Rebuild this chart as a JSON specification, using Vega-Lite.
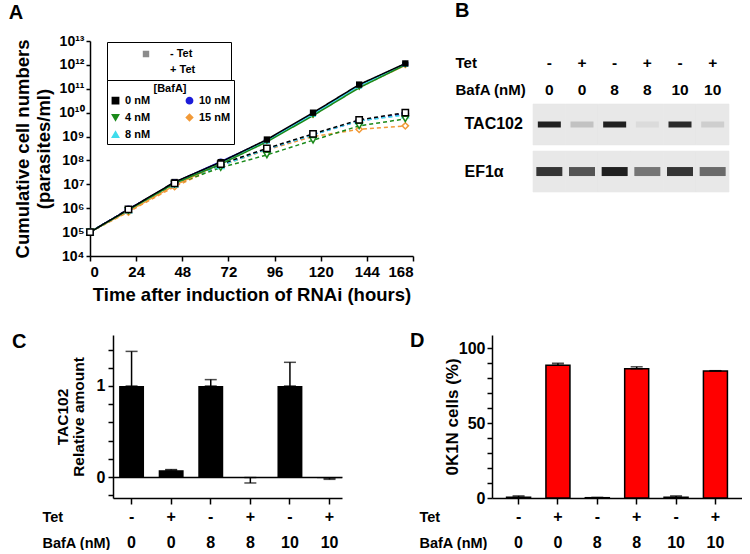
{
  "$schema": "https://vega.github.io/schema/vega-lite/v6.json",
  "padding": {"left": 8, "top": 1, "right": 0, "bottom": 0},
  "background": "white",
  "datasets": {
    "growth": [
      {"t":0,"b":"15 nM","tet":"+ Tet","n":1e5},{"t":20,"b":"15 nM","tet":"+ Tet","n":7e5},{"t":44,"b":"15 nM","tet":"+ Tet","n":8e6},{"t":68,"b":"15 nM","tet":"+ Tet","n":6e7},{"t":92,"b":"15 nM","tet":"+ Tet","n":2.8e8},{"t":116,"b":"15 nM","tet":"+ Tet","n":1e9},{"t":140,"b":"15 nM","tet":"+ Tet","n":2e9},{"t":164,"b":"15 nM","tet":"+ Tet","n":2.8e9},
      {"t":0,"b":"10 nM","tet":"+ Tet","n":1e5},{"t":20,"b":"10 nM","tet":"+ Tet","n":9e5},{"t":44,"b":"10 nM","tet":"+ Tet","n":1.1e7},{"t":68,"b":"10 nM","tet":"+ Tet","n":6.5e7},{"t":92,"b":"10 nM","tet":"+ Tet","n":3e8},{"t":116,"b":"10 nM","tet":"+ Tet","n":1.2e9},{"t":140,"b":"10 nM","tet":"+ Tet","n":4.5e9},{"t":164,"b":"10 nM","tet":"+ Tet","n":9e9},
      {"t":0,"b":"8 nM","tet":"+ Tet","n":1e5},{"t":20,"b":"8 nM","tet":"+ Tet","n":8.5e5},{"t":44,"b":"8 nM","tet":"+ Tet","n":1e7},{"t":68,"b":"8 nM","tet":"+ Tet","n":6e7},{"t":92,"b":"8 nM","tet":"+ Tet","n":3e8},{"t":116,"b":"8 nM","tet":"+ Tet","n":1.2e9},{"t":140,"b":"8 nM","tet":"+ Tet","n":4.5e9},{"t":164,"b":"8 nM","tet":"+ Tet","n":8e9},
      {"t":0,"b":"4 nM","tet":"+ Tet","n":1e5},{"t":20,"b":"4 nM","tet":"+ Tet","n":8e5},{"t":44,"b":"4 nM","tet":"+ Tet","n":1e7},{"t":68,"b":"4 nM","tet":"+ Tet","n":5e7},{"t":92,"b":"4 nM","tet":"+ Tet","n":1.7e8},{"t":116,"b":"4 nM","tet":"+ Tet","n":7e8},{"t":140,"b":"4 nM","tet":"+ Tet","n":2.8e9},{"t":164,"b":"4 nM","tet":"+ Tet","n":5.5e9},
      {"t":0,"b":"0 nM","tet":"+ Tet","n":1e5},{"t":20,"b":"0 nM","tet":"+ Tet","n":9e5},{"t":44,"b":"0 nM","tet":"+ Tet","n":1.1e7},{"t":68,"b":"0 nM","tet":"+ Tet","n":7e7},{"t":92,"b":"0 nM","tet":"+ Tet","n":3.2e8},{"t":116,"b":"0 nM","tet":"+ Tet","n":1.3e9},{"t":140,"b":"0 nM","tet":"+ Tet","n":5e9},{"t":164,"b":"0 nM","tet":"+ Tet","n":1e10},
      {"t":0,"b":"15 nM","tet":"- Tet","n":1e5},{"t":20,"b":"15 nM","tet":"- Tet","n":7.5e5},{"t":44,"b":"15 nM","tet":"- Tet","n":9e6},{"t":68,"b":"15 nM","tet":"- Tet","n":7.5e7},{"t":92,"b":"15 nM","tet":"- Tet","n":6.5e8},{"t":116,"b":"15 nM","tet":"- Tet","n":8e9},{"t":140,"b":"15 nM","tet":"- Tet","n":1.2e11},{"t":164,"b":"15 nM","tet":"- Tet","n":9.5e11},
      {"t":0,"b":"10 nM","tet":"- Tet","n":1e5},{"t":20,"b":"10 nM","tet":"- Tet","n":9e5},{"t":44,"b":"10 nM","tet":"- Tet","n":1.2e7},{"t":68,"b":"10 nM","tet":"- Tet","n":9e7},{"t":92,"b":"10 nM","tet":"- Tet","n":7e8},{"t":116,"b":"10 nM","tet":"- Tet","n":9e9},{"t":140,"b":"10 nM","tet":"- Tet","n":1.4e11},{"t":164,"b":"10 nM","tet":"- Tet","n":1.1e12},
      {"t":0,"b":"8 nM","tet":"- Tet","n":1e5},{"t":20,"b":"8 nM","tet":"- Tet","n":8.5e5},{"t":44,"b":"8 nM","tet":"- Tet","n":1.1e7},{"t":68,"b":"8 nM","tet":"- Tet","n":8e7},{"t":92,"b":"8 nM","tet":"- Tet","n":6.5e8},{"t":116,"b":"8 nM","tet":"- Tet","n":8.5e9},{"t":140,"b":"8 nM","tet":"- Tet","n":1.3e11},{"t":164,"b":"8 nM","tet":"- Tet","n":1.05e12},
      {"t":0,"b":"4 nM","tet":"- Tet","n":1e5},{"t":20,"b":"4 nM","tet":"- Tet","n":8.5e5},{"t":44,"b":"4 nM","tet":"- Tet","n":1.1e7},{"t":68,"b":"4 nM","tet":"- Tet","n":7e7},{"t":92,"b":"4 nM","tet":"- Tet","n":6e8},{"t":116,"b":"4 nM","tet":"- Tet","n":7.5e9},{"t":140,"b":"4 nM","tet":"- Tet","n":1.1e11},{"t":164,"b":"4 nM","tet":"- Tet","n":1.0e12},
      {"t":0,"b":"0 nM","tet":"- Tet","n":1e5},{"t":20,"b":"0 nM","tet":"- Tet","n":9e5},{"t":44,"b":"0 nM","tet":"- Tet","n":1.25e7},{"t":68,"b":"0 nM","tet":"- Tet","n":8.5e7},{"t":92,"b":"0 nM","tet":"- Tet","n":7.5e8},{"t":116,"b":"0 nM","tet":"- Tet","n":1.0e10},{"t":140,"b":"0 nM","tet":"- Tet","n":1.5e11},{"t":164,"b":"0 nM","tet":"- Tet","n":1.15e12}
    ],
    "blot": [
      {"lane":"-|0","blot":"TAC102","v":0.95},{"lane":"+|0","blot":"TAC102","v":0.18},{"lane":"-|8","blot":"TAC102","v":0.95},{"lane":"+|8","blot":"TAC102","v":0.06},{"lane":"-|10","blot":"TAC102","v":0.9},{"lane":"+|10","blot":"TAC102","v":0.12},
      {"lane":"-|0","blot":"EF1α","v":0.85},{"lane":"+|0","blot":"EF1α","v":0.7},{"lane":"-|8","blot":"EF1α","v":0.95},{"lane":"+|8","blot":"EF1α","v":0.55},{"lane":"-|10","blot":"EF1α","v":0.85},{"lane":"+|10","blot":"EF1α","v":0.6}
    ],
    "tac": [
      {"cond":"-|0","value":1,"err":1.38},{"cond":"+|0","value":0.075,"err":0.082},{"cond":"-|8","value":1,"err":1.07},{"cond":"+|8","value":-0.005,"err":-0.065},{"cond":"-|10","value":1,"err":1.26},{"cond":"+|10","value":-0.012,"err":-0.025}
    ],
    "kn": [
      {"cond":"-|0","value":0.5,"err":1.4},{"cond":"+|0","value":88.5,"err":89.8},{"cond":"-|8","value":0.2,"err":0.4},{"cond":"+|8","value":86.2,"err":87.5},{"cond":"-|10","value":0.5,"err":1.4},{"cond":"+|10","value":84.7,"err":84.9}
    ],
    "none": []
  },
  "concat": [
    {
      "hconcat": [
        {
          "width": 323, "height": 215,
          "title": {"text": "A", "dx": -5, "offset": 11},
          "data": {"name": "growth"},
          "encoding": {
            "x": {"field": "t", "type": "quantitative", "scale": {"domain": [0, 168], "nice": false},
                  "axis": {"values": [0,24,48,72,96,120,144,168], "title": "Time after induction of RNAi (hours)", "titleFontSize": 18.5, "labelFontSize": 15, "tickSize": 5, "titlePadding": 6, "labelPadding": 3}},
            "y": {"field": "n", "type": "quantitative", "scale": {"type": "log", "domain": [1e4, 1e13], "nice": false},
                  "axis": {"values": [1e4,1e5,1e6,1e7,1e8,1e9,1e10,1e11,1e12,1e13],
                           "labelExpr": "['10⁴','10⁵','10⁶','10⁷','10⁸','10⁹','10¹⁰','10¹¹','10¹²','10¹³'][round(log(datum.value)/LN10) - 4]",
                           "labelFontSize": 14, "tickSize": 4, "labelPadding": 2, "labelOverlap": false,
                           "title": ["Cumulative cell numbers", "(parasites/ml)"], "titleFontSize": 18.5, "titleLineHeight": 21, "titlePadding": 5}},
            "color": {"field": "b", "type": "nominal",
                      "scale": {"domain": ["0 nM","4 nM","8 nM","10 nM","15 nM"], "range": ["#000000","#1b8a1b","#3fdcec","#1c1cd9","#f29a38"]},
                      "legend": {"title": "[BafA]", "orient": "none", "legendX": 17, "legendY": 39, "columns": 2, "columnPadding": 32, "rowPadding": 4, "strokeColor": "black", "padding": 3, "titlePadding": 1, "titleAnchor": "middle", "titleAlign": "center", "titleFontSize": 11, "labelFontSize": 11, "symbolSize": 40, "symbolStrokeWidth": 1.5,
                                 "encode": {"symbols": {"update": {"fill": {"scale": "color", "field": "value"}}}}}}
          },
          "layer": [
            {"mark": {"type": "line", "strokeWidth": 1.5},
             "encoding": {"strokeDash": {"field": "tet", "type": "nominal", "scale": {"domain": ["- Tet", "+ Tet"], "range": [[1,0],[4,3]]},
                                         "legend": {"title": null, "orient": "none", "legendX": 17, "legendY": 1, "strokeColor": "black", "padding": 3, "labelFontSize": 11, "labelExpr": "datum.label + '\u2800\u2800\u2800\u2800'", "symbolOffset": 27, "symbolType": "M-1,0H-0.4M0.4,0H1M-0.4,-0.4H0.4V0.4H-0.4Z", "symbolSize": 256, "symbolStrokeColor": "#8c8c8c", "symbolStrokeWidth": 1.5, "labelOffset": 15, "rowPadding": 0,
                                                    "encode": {"symbols": {"update": {"fill": {"signal": "datum.value === '- Tet' ? '#8c8c8c' : 'white'"}}}}}},
                          "detail": {"field": "tet"}}},
            {"transform": [{"filter": "datum.tet === '- Tet'"}],
             "mark": {"type": "point", "filled": true, "size": 40, "opacity": 1},
             "encoding": {"shape": {"field": "b", "type": "nominal", "scale": {"domain": ["0 nM","4 nM","8 nM","10 nM","15 nM"], "range": ["square","triangle-down","triangle-up","circle","diamond"]},
                                    "legend": {"title": "[BafA]", "orient": "none", "legendX": 17, "legendY": 39, "columns": 2, "columnPadding": 32, "rowPadding": 4, "strokeColor": "black", "padding": 3, "titlePadding": 1, "titleAnchor": "middle", "titleAlign": "center", "titleFontSize": 11, "labelFontSize": 11, "symbolSize": 40, "symbolStrokeWidth": 1.5}}}},
            {"transform": [{"filter": "datum.tet === '+ Tet'"}],
             "mark": {"type": "point", "filled": false, "fill": "white", "size": 40, "strokeWidth": 1.5, "opacity": 1},
             "encoding": {"shape": {"field": "b", "type": "nominal"}}}
          ]
        },
        {
          "width": 196, "height": 151,
          "title": {"text": "B", "dx": 0, "offset": 20},
          "data": {"name": "blot"},
          "encoding": {
            "x": {"field": "lane", "type": "nominal", "sort": ["-|0","+|0","-|8","+|8","-|10","+|10"], "scale": {"paddingInner": 0, "paddingOuter": 0},
                  "axis": {"orient": "top", "domain": false, "ticks": false, "tickSize": 0, "labelExpr": "split(datum.label, '|')", "labelAngle": 0, "labelFontSize": 15.5, "labelLineHeight": 27, "labelBaseline": "alphabetic", "labelPadding": -26,
                           "title": ["Tet", "BafA (nM)"], "titleFontSize": 15, "titleLineHeight": 27, "titleX": -78, "titleY": 26, "titleAlign": "left", "titleBaseline": "alphabetic", "titleAngle": 0}},
            "y": {"field": "blot", "type": "nominal", "sort": ["TAC102", "EF1α"], "scale": {"paddingInner": 0.13, "paddingOuter": 0.67, "align": 1},
                  "axis": {"domain": false, "ticks": false, "labelAlign": "left", "labelPadding": 69, "labelFontSize": 16, "title": null}}
          },
          "layer": [
            {"mark": {"type": "rect", "fill": "#e8e8e8", "stroke": "#e8e8e8", "strokeWidth": 0.6}},
            {"transform": [{"filter": "datum.blot === 'TAC102'"}],
             "mark": {"type": "tick", "orient": "horizontal", "size": 23, "thickness": 6, "color": "#151515"},
             "encoding": {"opacity": {"field": "v", "type": "quantitative", "scale": {"domain": [0, 1], "range": [0, 1]}, "legend": null}}},
            {"transform": [{"filter": "datum.blot === 'EF1α'"}],
             "mark": {"type": "tick", "orient": "horizontal", "size": 26, "thickness": 9, "color": "#151515"},
             "encoding": {"opacity": {"field": "v", "type": "quantitative", "scale": {"domain": [0, 1], "range": [0, 1]}, "legend": null}}}
          ]
        }
      ],
      "bounds": "flush",
      "spacing": 120
    },
    {
      "hconcat": [
        {"width": 23, "height": 163, "data": {"name": "none"}, "mark": {"type": "point", "opacity": 0}},
        {
          "width": 229, "height": 163,
          "title": {"text": "C", "dx": -30, "offset": -17},
          "data": {"name": "tac"},
          "layer": [
            {"mark": {"type": "bar", "color": "black"},
             "encoding": {
               "x": {"field": "cond", "type": "nominal", "sort": ["-|0","+|0","-|8","+|8","-|10","+|10"], "scale": {"paddingInner": 0.37, "paddingOuter": 0.077, "align": 1},
                     "axis": {"labelExpr": "split(datum.label, '|')", "labelAngle": 0, "labelFontSize": 16, "labelLineHeight": 26, "labelBaseline": "alphabetic", "tickSize": 6, "labelPadding": 17,
                              "title": ["Tet", "BafA (nM)"], "titleFontSize": 14.5, "titleLineHeight": 26, "titleX": -71, "titleY": 23, "titleAlign": "left", "titleBaseline": "alphabetic", "titleAngle": 0}},
               "y": {"field": "value", "type": "quantitative", "scale": {"domain": [-0.23, 1.56], "nice": false, "zero": false},
                     "axis": {"values": [-0.2,0,0.2,0.4,0.6,0.8,1,1.2,1.4], "labelExpr": "abs(datum.value) < 0.01 ? '0' : abs(datum.value - 1) < 0.01 ? '1' : ''", "labelOverlap": false, "labelFontSize": 16, "tickSize": 5, "labelPadding": 3,
                              "grid": true, "gridColor": "black", "gridWidth": 1.5, "gridOpacity": {"condition": {"test": "abs(datum.value) < 0.001", "value": 1}, "value": 0},
                              "title": ["TAC102", "Relative amount"], "titleFontSize": 15.5, "titleLineHeight": 16, "titlePadding": 10}}}},
            {"mark": {"type": "errorbar", "ticks": true, "size": 12, "thickness": 1.5, "color": "black"},
             "encoding": {
               "x": {"field": "cond", "type": "nominal", "sort": ["-|0","+|0","-|8","+|8","-|10","+|10"], "scale": {"paddingInner": 0.37, "paddingOuter": 0.077, "align": 1},
                     "axis": {"labelExpr": "split(datum.label, '|')", "labelAngle": 0, "labelFontSize": 16, "labelLineHeight": 26, "labelBaseline": "alphabetic", "tickSize": 6, "labelPadding": 17,
                              "title": ["Tet", "BafA (nM)"], "titleFontSize": 14.5, "titleLineHeight": 26, "titleX": -71, "titleY": 23, "titleAlign": "left", "titleBaseline": "alphabetic", "titleAngle": 0}},
               "y": {"field": "value", "type": "quantitative", "scale": {"domain": [-0.23, 1.56], "nice": false, "zero": false},
                     "axis": {"values": [-0.2,0,0.2,0.4,0.6,0.8,1,1.2,1.4], "labelExpr": "abs(datum.value) < 0.01 ? '0' : abs(datum.value - 1) < 0.01 ? '1' : ''", "labelOverlap": false, "labelFontSize": 16, "tickSize": 5, "labelPadding": 3,
                              "grid": true, "gridColor": "black", "gridWidth": 1.5, "gridOpacity": {"condition": {"test": "abs(datum.value) < 0.001", "value": 1}, "value": 0},
                              "title": ["TAC102", "Relative amount"], "titleFontSize": 15.5, "titleLineHeight": 16, "titlePadding": 10}},
               "y2": {"field": "err"}}}
          ]
        },
        {"width": 150, "height": 163, "data": {"name": "none"}, "mark": {"type": "point", "opacity": 0}},
        {
          "width": 250, "height": 163,
          "title": {"text": "D", "dx": -9, "offset": -16},
          "data": {"name": "kn"},
          "layer": [
            {"mark": {"type": "bar", "fill": "#ff0000", "stroke": "black", "strokeWidth": 1.5},
             "encoding": {
               "x": {"field": "cond", "type": "nominal", "sort": ["-|0","+|0","-|8","+|8","-|10","+|10"], "scale": {"paddingInner": 0.39, "paddingOuter": 0.37},
                     "axis": {"labelExpr": "split(datum.label, '|')", "labelAngle": 0, "labelFontSize": 16, "labelLineHeight": 26, "labelBaseline": "alphabetic", "tickSize": 6, "labelPadding": 17,
                              "title": ["Tet", "BafA (nM)"], "titleFontSize": 14.5, "titleLineHeight": 26, "titleX": -73, "titleY": 23, "titleAlign": "left", "titleBaseline": "alphabetic", "titleAngle": 0}},
               "y": {"field": "value", "type": "quantitative", "scale": {"domain": [0, 108.7], "nice": false},
                     "axis": {"values": [0,10,20,30,40,50,60,70,80,90,100], "labelExpr": "abs(datum.value) < 0.5 ? '0' : abs(datum.value - 50) < 0.5 ? '50' : abs(datum.value - 100) < 0.5 ? '100' : ''", "labelOverlap": false, "labelFontSize": 16, "tickSize": 5, "labelPadding": 2,
                              "title": "0K1N cells (%)", "titleFontSize": 17, "titlePadding": -3}}}},
            {"mark": {"type": "errorbar", "ticks": true, "size": 12, "thickness": 1.5, "color": "black"},
             "encoding": {
               "x": {"field": "cond", "type": "nominal", "sort": ["-|0","+|0","-|8","+|8","-|10","+|10"], "scale": {"paddingInner": 0.39, "paddingOuter": 0.37},
                     "axis": {"labelExpr": "split(datum.label, '|')", "labelAngle": 0, "labelFontSize": 16, "labelLineHeight": 26, "labelBaseline": "alphabetic", "tickSize": 6, "labelPadding": 17,
                              "title": ["Tet", "BafA (nM)"], "titleFontSize": 14.5, "titleLineHeight": 26, "titleX": -73, "titleY": 23, "titleAlign": "left", "titleBaseline": "alphabetic", "titleAngle": 0}},
               "y": {"field": "value", "type": "quantitative", "scale": {"domain": [0, 108.7], "nice": false},
                     "axis": {"values": [0,10,20,30,40,50,60,70,80,90,100], "labelExpr": "abs(datum.value) < 0.5 ? '0' : abs(datum.value - 50) < 0.5 ? '50' : abs(datum.value - 100) < 0.5 ? '100' : ''", "labelOverlap": false, "labelFontSize": 16, "tickSize": 5, "labelPadding": 2,
                              "title": "0K1N cells (%)", "titleFontSize": 17, "titlePadding": -3}},
               "y2": {"field": "err"}}}
          ]
        }
      ],
      "bounds": "flush",
      "spacing": 0
    }
  ],
  "columns": 1,
  "align": "none",
  "bounds": "full",
  "spacing": 27,
  "config": {
    "font": "Liberation Sans",
    "view": {"stroke": null},
    "axis": {"domainColor": "black", "domainWidth": 1.5, "tickColor": "black", "tickWidth": 1.5, "labelColor": "black", "titleColor": "black", "labelFontWeight": "bold", "titleFontWeight": "bold", "grid": false},
    "legend": {"labelFontWeight": "bold", "titleFontWeight": "bold", "labelColor": "black", "titleColor": "black"},
    "title": {"fontWeight": "bold", "color": "black", "fontSize": 20, "anchor": "start", "frame": "bounds", "baseline": "alphabetic"}
  }
}
